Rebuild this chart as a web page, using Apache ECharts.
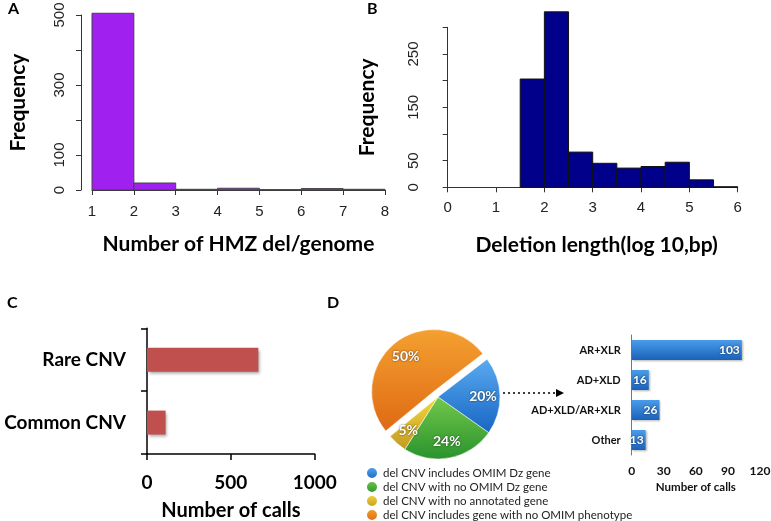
<!DOCTYPE html>
<html>
<head>
<meta charset="utf-8">
<script src="https://cdn.jsdelivr.net/npm/echarts@6/dist/echarts.min.js"></script>
<style>html,body{margin:0;padding:0;background:#fff}#c{width:771px;height:521px}</style>
</head>
<body>
<div id="c"></div>
<script>
// Panel A: histogram of HMZ deletions per genome
const aBinStart = [1, 2, 3, 4, 5, 6, 7];
const aBinWidth = 1;
const aCounts = [505, 20, 2, 5, 1, 4, 2];
const aYTicksLabeled = [0, 100, 300, 500];
// Panel B: histogram of deletion length (log10 bp)
const bBinStart = [1.5, 2, 2.5, 3, 3.5, 4, 4.5, 5, 5.5];
const bBinWidth = 0.5;
const bCounts = [203, 329, 66, 45, 36, 39, 47, 14, 1];
const bYTicksLabeled = [0, 50, 150, 250];
// Panel C: rare vs common CNV
const cCategories = ['Common CNV', 'Rare CNV'];
const cValues = [111, 664];
// Panel D: pie + inheritance bar
const pieNames = ['del CNV includes OMIM Dz gene', 'del CNV with no OMIM Dz gene', 'del CNV with no annotated gene', 'del CNV includes gene with no OMIM phenotype'];
const pieValues = [20, 24, 5, 50];
const dCategories = ['AR+XLR', 'AD+XLD', 'AD+XLD/AR+XLR', 'Other'];
const dValues = [103, 16, 26, 13];

const chart = echarts.init(document.getElementById('c'), null, {renderer: 'canvas'});
const G = echarts.graphic;
const FONT = 'Lato';

function histItem(color, stroke) {
  return function (params, api) {
    const p0 = api.coord([api.value(0), 0]);
    const p1 = api.coord([api.value(1), api.value(2)]);
    return {type: 'rect', shape: {x: p0[0], y: p1[1], width: p1[0] - p0[0], height: p0[1] - p1[1]},
      style: {fill: color, stroke: stroke, lineWidth: 1}};
  };
}
const rAxisLine = {show: true, lineStyle: {color: '#333', width: 1}};
const rTick = {show: true, length: 5, lineStyle: {color: '#333'}};
const rLabel = {color: '#222', fontFamily: 'Liberation Sans', fontSize: 15};
const titleFont = {fontFamily: FONT, fontWeight: 'bold', fontSize: 21, color: '#000'};

function grad(c1, c2) {
  return new G.LinearGradient(0, 0, 0, 1, [{offset: 0, color: c1}, {offset: 1, color: c2}]);
}
const pieColors = [grad('#5AAAF0', '#1766C4'), grad('#72C84C', '#2A922C'), grad('#F3D83A', '#C49A22'), grad('#F4A030', '#DF6A14')];
const pieData = pieNames.map((n, i) => ({name: n, value: pieValues[i], selected: i === 3,
  itemStyle: {color: pieColors[i]}}));

const option = {
  animation: false,
  backgroundColor: '#fff',
  grid: [
    {left: 92, top: 15, width: 293, height: 175, outerBoundsMode: 'none', containLabel: false},
    {left: 447.7, top: 27.3, width: 290, height: 160, outerBoundsMode: 'none', containLabel: false},
    {left: 147, top: 328.3, width: 167.7, height: 125.7, outerBoundsMode: 'none', containLabel: false},
    {left: 631.7, top: 335, width: 128.3, height: 120, outerBoundsMode: 'none', containLabel: false}
  ],
  xAxis: [
    {gridIndex: 0, type: 'value', min: 1, max: 8, interval: 1, offset: 8,
      axisLine: rAxisLine, axisTick: rTick, splitLine: {show: false},
      axisLabel: Object.assign({margin: 6}, rLabel),
      name: 'Number of HMZ del/genome', nameLocation: 'middle', nameGap: 36, nameTextStyle: titleFont},
    {gridIndex: 1, type: 'value', min: 0, max: 6, interval: 1, offset: 7,
      axisLine: rAxisLine, axisTick: rTick, splitLine: {show: false},
      axisLabel: Object.assign({margin: 6}, rLabel),
      name: 'Deletion length(log 10,bp)', nameLocation: 'middle', nameGap: 40,
      nameTextStyle: Object.assign({padding: [0, 0, 0, 8]}, titleFont)},
    {gridIndex: 2, type: 'value', min: 0, max: 1000, interval: 500,
      axisLine: {show: true, lineStyle: {color: '#000', width: 1.5}},
      axisTick: {show: true, length: 6, lineStyle: {color: '#000', width: 1.5}}, splitLine: {show: false},
      axisLabel: {margin: 19, formatter: v => String(v), fontFamily: FONT, fontWeight: 'bold', fontSize: 19, color: '#000'},
      name: 'Number of calls', nameLocation: 'middle', nameGap: 47,
      nameTextStyle: {fontFamily: FONT, fontWeight: 'bold', fontSize: 20, color: '#000'}},
    {gridIndex: 3, type: 'value', min: 0, max: 120, interval: 30,
      axisLine: {show: false}, axisTick: {show: false}, splitLine: {show: false},
      axisLabel: {margin: 10, fontFamily: FONT, fontWeight: 'bold', fontSize: 12, color: '#111'},
      name: 'Number of calls', nameLocation: 'middle', nameGap: 26,
      nameTextStyle: {fontFamily: FONT, fontWeight: 'bold', fontSize: 11.5, color: '#111'}}
  ],
  yAxis: [
    {gridIndex: 0, type: 'value', min: 0, max: 500, interval: 100, offset: 11,
      axisLine: rAxisLine, axisTick: rTick, splitLine: {show: false},
      axisLabel: Object.assign({margin: 14, rotate: 90, formatter: v => aYTicksLabeled.includes(v) ? String(v) : ''}, rLabel),
      name: 'Frequency', nameLocation: 'middle', nameGap: 52, nameRotate: 90, nameTextStyle: titleFont},
    {gridIndex: 1, type: 'value', min: 0, max: 300, interval: 50, offset: 12,
      axisLine: rAxisLine, axisTick: rTick, splitLine: {show: false},
      axisLabel: Object.assign({margin: 14, rotate: 90, formatter: v => bYTicksLabeled.includes(v) ? String(v) : ''}, rLabel),
      name: 'Frequency', nameLocation: 'middle', nameGap: 58, nameRotate: 90, nameTextStyle: titleFont},
    {gridIndex: 2, type: 'category', data: cCategories,
      axisLine: {show: true, lineStyle: {color: '#000', width: 1.5}},
      axisTick: {show: true, length: 6, lineStyle: {color: '#000', width: 1.5}},
      axisLabel: {margin: 21, fontFamily: FONT, fontWeight: 'bold', fontSize: 19, color: '#000'}},
    {gridIndex: 3, type: 'category', data: dCategories, inverse: true,
      axisLine: {show: true, lineStyle: {color: '#777', width: 1}}, axisTick: {show: false},
      axisLabel: {margin: 11, fontFamily: FONT, fontWeight: 'bold', fontSize: 11, color: '#111'}}
  ],
  legend: {
    data: pieNames, orient: 'vertical', left: 365, top: 466, width: 300, height: 120, padding: 0, itemGap: 0,
    icon: 'circle', itemWidth: 12, itemHeight: 12, selectedMode: false,
    textStyle: {fontFamily: FONT, fontSize: 11.5, lineHeight: 12, color: '#222'}
  },
  series: [
    {type: 'custom', xAxisIndex: 0, yAxisIndex: 0, renderItem: histItem('#A020F0', '#444'),
      encode: {x: [0, 1], y: 2}, data: aBinStart.map((s, i) => [s, s + aBinWidth, aCounts[i]])},
    {type: 'custom', xAxisIndex: 1, yAxisIndex: 1, renderItem: histItem('#00008B', '#111'),
      encode: {x: [0, 1], y: 2}, data: bBinStart.map((s, i) => [s, s + bBinWidth, bCounts[i]])},
    {type: 'bar', xAxisIndex: 2, yAxisIndex: 2, data: cValues, barWidth: 24,
      itemStyle: {color: '#C0504D', shadowBlur: 3, shadowOffsetX: 1.5, shadowOffsetY: 2, shadowColor: 'rgba(0,0,0,0.35)'}},
    {type: 'bar', xAxisIndex: 3, yAxisIndex: 3, data: dValues, barWidth: 20,
      itemStyle: {color: grad('#4A9CEB', '#1A62B8'), shadowBlur: 2, shadowOffsetX: 1, shadowOffsetY: 1, shadowColor: 'rgba(0,0,0,0.3)'},
      label: {show: true, position: 'insideRight', distance: 2, color: '#fff', fontFamily: FONT, fontWeight: 'bold', fontSize: 12,
        textShadowColor: 'rgba(0,0,0,0.7)', textShadowBlur: 2}},
    {type: 'pie', center: [438, 397], radius: 62, startAngle: 37.6, clockwise: true,
      selectedMode: 'single', selectedOffset: 7, silent: true, data: pieData,
      label: {show: false}, labelLine: {show: false},
      itemStyle: {borderColor: '#fff', borderWidth: 0.5}},
    {type: 'pie', center: [438, 397], radius: 84, startAngle: 37.6, clockwise: true,
      selectedMode: 'single', selectedOffset: 7, silent: true, z: 5,
      data: pieNames.map((n, i) => ({name: n, value: pieValues[i], selected: i === 3})),
      itemStyle: {color: 'transparent'}, emphasis: {disabled: true},
      label: {show: true, position: 'inside', formatter: '{c}%', color: '#fff', fontFamily: FONT, fontWeight: 'bold', fontSize: 14,
        textShadowColor: 'rgba(0,0,0,0.7)', textShadowBlur: 2}, labelLine: {show: false}}
  ],
  graphic: [
    {type: 'text', left: 8, top: 1, style: {text: 'A', fontFamily: FONT, fontWeight: 'bold', fontSize: 16, fill: '#000'}},
    {type: 'text', left: 367, top: 1, style: {text: 'B', fontFamily: FONT, fontWeight: 'bold', fontSize: 16, fill: '#000'}},
    {type: 'text', left: 7, top: 295, style: {text: 'C', fontFamily: FONT, fontWeight: 'bold', fontSize: 16, fill: '#000'}},
    {type: 'text', left: 327, top: 295, style: {text: 'D', fontFamily: FONT, fontWeight: 'bold', fontSize: 16, fill: '#000'}},
    {type: 'line', shape: {x1: 503, y1: 393, x2: 557, y2: 393}, style: {stroke: '#000', lineWidth: 1.3, lineDash: [2, 3]}},
    {type: 'polygon', shape: {points: [[556, 389], [564, 393], [556, 397]]}, style: {fill: '#000'}}
  ]
};
chart.setOption(option);
</script>
</body>
</html>
